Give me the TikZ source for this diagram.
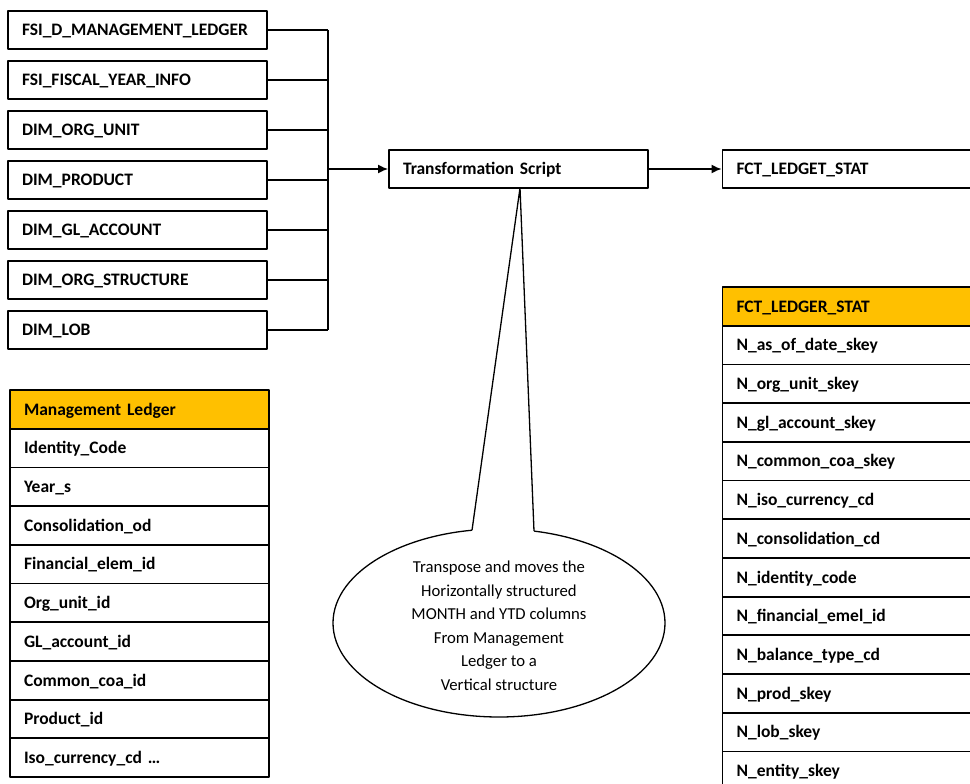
\documentclass[tikz,border=0pt]{standalone}
\usepackage{fontspec}
\setmainfont{Carlito}
\usetikzlibrary{arrows.meta,shapes.geometric}
\definecolor{headfill}{HTML}{FFC000}
\begin{document}
\begin{tikzpicture}[x=1pt, y=-1pt, line join=round, >={Latex[length=10pt,width=9pt]},
	tbox/.style={draw, line width=1.8pt, minimum height=38pt, text width=231pt, text height=11.5pt, text depth=0pt, inner xsep=14pt, inner ysep=0pt, align=left, font=\fontsize{17.5}{20}\selectfont\bfseries},
	cell/.style={tbox, minimum height=38.7pt},
	head/.style={cell, fill=headfill},
	link/.style={line width=1.6pt}]
	% Khung hình
	\useasboundingbox (0,0) rectangle (970,784);
	\clip (0,0) rectangle (970,784);
	
	% Chú thích hình elip
	\node[ellipse, draw, line width=1.3pt, fill=white, minimum width=332pt, minimum height=188pt] (bubble) at (499,623) {};
	\coordinate (tip) at (520,188);
	\coordinate (bl) at (472,530.3); \coordinate (br) at (534,531.1);
	\fill[white] (bl) -- (tip) -- (br) -- (534,540) -- (472,540) -- cycle;
	\draw[line width=1.3pt] (bl) -- (tip) -- (br);
	\node[align=center, font=\fontsize{16.7}{23.5}\selectfont] (note) at (499,626) {Transpose and moves the\\Horizontally structured\\MONTH and YTD columns\\From Management\\Ledger to a\\Vertical structure};
	
	% Các bảng nguồn
	\node[tbox] (s1) at (137.5,30) {FSI\_D\_MANAGEMENT\_LEDGER};
	\node[tbox] (s2) at (137.5,80) {FSI\_FISCAL\_YEAR\_INFO};
	\node[tbox] (s3) at (137.5,130) {DIM\_ORG\_UNIT};
	\node[tbox] (s4) at (137.5,180) {DIM\_PRODUCT};
	\node[tbox] (s5) at (137.5,230) {DIM\_GL\_ACCOUNT};
	\node[tbox] (s6) at (137.5,280) {DIM\_ORG\_STRUCTURE};
	\node[tbox] (s7) at (137.5,330) {DIM\_LOB};
	
	% Script và bảng đích
	\node[tbox] (trans) at (518.5,169) {Transformation Script};
	\node[tbox] (fct) at (852,169) {FCT\_LEDGET\_STAT};
	
	% Các đường nối
	\coordinate (bus) at (328,169);
	\foreach \i in {1,...,7} \draw[link] (s\i.east) -- (s\i.east -| bus);
	\draw[link] (s1.east -| bus) -- (s7.east -| bus);
	\draw[link, ->] (bus) -- (trans.west);
	\draw[link, ->] (trans.east) -- (fct.west);
	
	% Bảng Management Ledger
	\node[head] (ml0) at (139.5,409.35) {Management Ledger};
	\foreach \t [count=\i] in {Identity\_Code, Year\_s, Consolidation\_od, Financial\_elem\_id, Org\_unit\_id, GL\_account\_id, Common\_coa\_id, Product\_id, {Iso\_currency\_cd \ldots}}
		\node[cell] (ml\i) at (139.5,{409.35+38.7*\i}) {\t};
	
	% Bảng FCT_LEDGER_STAT
	\node[head] (fs0) at (852,306.35) {FCT\_LEDGER\_STAT};
	\foreach \t [count=\i] in {N\_as\_of\_date\_skey, N\_org\_unit\_skey, N\_gl\_account\_skey, N\_common\_coa\_skey, N\_iso\_currency\_cd, N\_consolidation\_cd, N\_identity\_code, N\_financial\_emel\_id, N\_balance\_type\_cd, N\_prod\_skey, N\_lob\_skey, N\_entity\_skey}
		\node[cell] (fs\i) at (852,{306.35+38.7*\i}) {\t};
\end{tikzpicture}
\end{document}
